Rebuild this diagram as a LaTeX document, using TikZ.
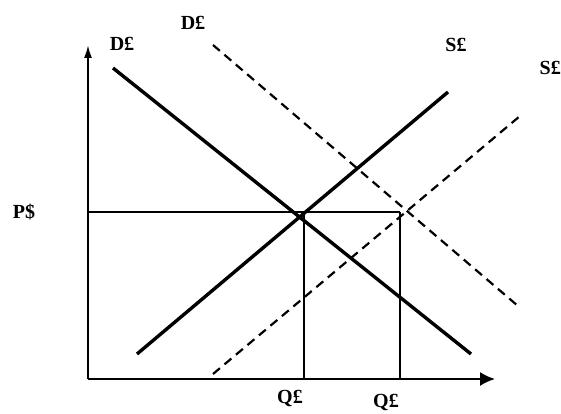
\documentclass[tikz,border=0pt]{standalone}
\usepackage{fontspec}
\setmainfont{Liberation Serif}
\usepackage{tikz}
\usetikzlibrary{arrows.meta}
\definecolor{AxisBlack}{HTML}{000000}

\begin{document}
\begin{tikzpicture}[x=1pt,y=-1pt,
  axisline/.style={draw=AxisBlack,line width=2pt},
  curveline/.style={draw=AxisBlack,line width=3.4pt},
  shiftline/.style={draw=AxisBlack,line width=2.2pt,dash pattern=on 9pt off 6pt},
  guideline/.style={draw=AxisBlack,line width=1.2pt},
  lbl/.style={font=\fontsize{20}{22}\selectfont\bfseries,inner sep=0pt}]
\useasboundingbox (0,0) rectangle (561,414);
% axes
\coordinate (O) at (88,379);
\coordinate (ytop) at (88,45);
\coordinate (xend) at (495,379);
\draw[axisline,-{Latex[length=13pt,width=8pt]}] (O) -- (ytop);
\draw[axisline,-{Latex[length=15pt,width=14pt]}] (O) -- (xend);
% price and quantity guides
\coordinate (Peq) at (88,212);
\coordinate (Eone) at (304,212);
\coordinate (Etwo) at (400,212);
\draw[guideline] (Peq) -- (Etwo);
\draw[guideline] (Eone) -- (Eone |- O);
\draw[guideline] (Etwo) -- (Etwo |- O);
% demand and supply
\coordinate (Done) at (113,68);   \coordinate (Dend) at (471,354);
\coordinate (Sone) at (137,354);  \coordinate (Send) at (448,92);
\coordinate (Dtwo) at (213,45);   \coordinate (Dtwoend) at (518,306);
\coordinate (Stwo) at (213,374);  \coordinate (Stwoend) at (520,116);
\draw[curveline] (Done) -- (Dend);
\draw[curveline] (Sone) -- (Send);
\draw[shiftline] (Dtwo) -- (Dtwoend);
\draw[shiftline] (Stwo) -- (Stwoend);
% labels
\node[lbl] (Dlabel) at (122,44) {D£};
\node[lbl] (Dtwolabel) at (193,23) {D£};
\node[lbl] (Slabel) at (456,45) {S£};
\node[lbl,anchor=east] (Stwolabel) at (561,68) {S£};
\node[lbl] (Plabel) at (24,212) {P\$};
\node[lbl] (Qlabel) at (290,398) {Q£};
\node[lbl] (Qtwolabel) at (386,402) {Q£};
\end{tikzpicture}
\end{document}
